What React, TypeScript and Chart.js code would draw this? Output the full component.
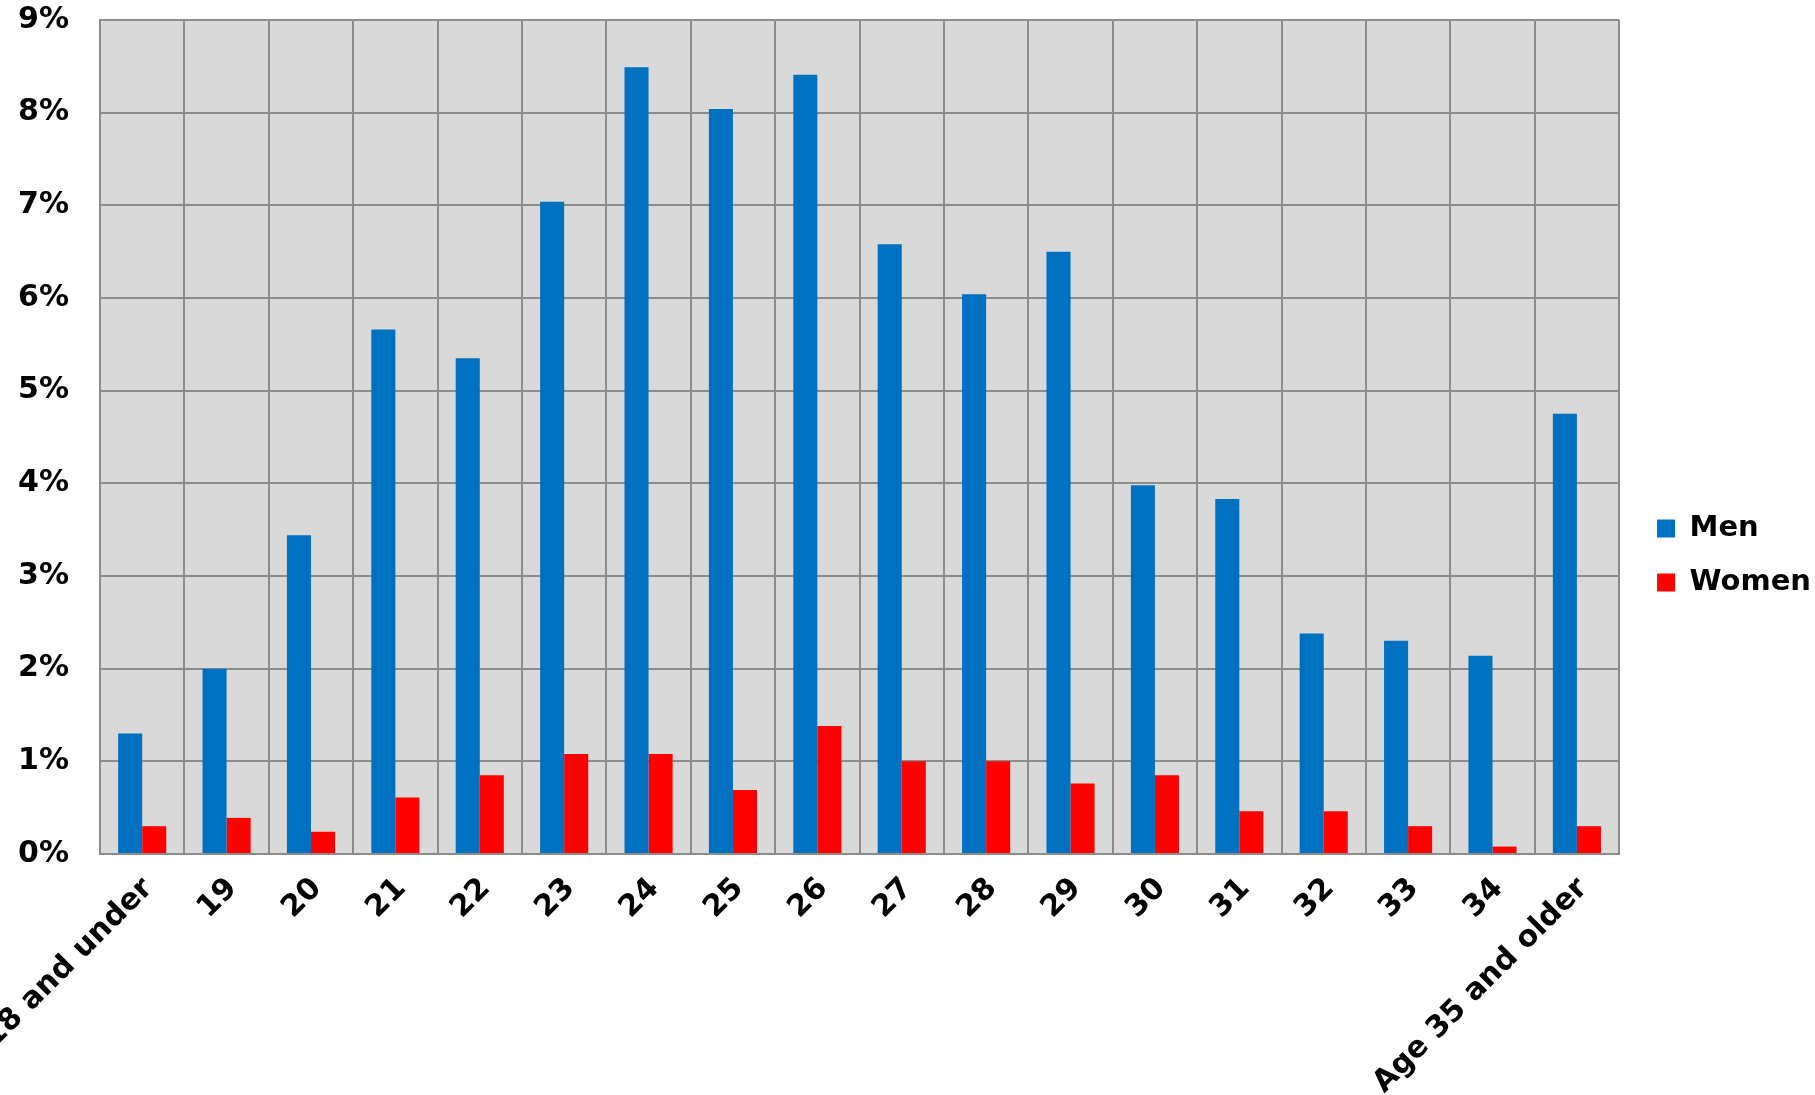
import React, { useEffect, useRef } from "react";
import { Chart, registerables } from "chart.js";

Chart.register(...registerables);

const categories = [
  "Age 18 and under", "19", "20", "21", "22", "23", "24", "25", "26",
  "27", "28", "29", "30", "31", "32", "33", "34", "Age 35 and older",
];
const menValues = [1.3, 2.0, 3.44, 5.66, 5.35, 7.04, 8.49, 8.04, 8.41, 6.58, 6.04, 6.5, 3.98, 3.83, 2.38, 2.3, 2.14, 4.75];
const womenValues = [0.3, 0.39, 0.24, 0.61, 0.85, 1.08, 1.08, 0.69, 1.38, 1.0, 1.0, 0.76, 0.85, 0.46, 0.46, 0.3, 0.08, 0.3];
const seriesNames = ["Men", "Women"];
const yMin = 0;
const yMax = 9;
const yStep = 1;

const FAMILY = "'DejaVu Sans', Verdana, sans-serif";
const FONT = { family: FAMILY, size: 29, weight: "bold" as const };
const TICK_FONT = { family: FAMILY, size: 30, weight: "bold" as const };
const GRID = "#8c8c8c";

const plotBg = {
  id: "plotBg",
  beforeDraw(chart: any) {
    const { ctx, chartArea } = chart;
    if (!chartArea) return;
    ctx.save();
    ctx.fillStyle = "#d9d9d9";
    ctx.fillRect(chartArea.left, chartArea.top, chartArea.right - chartArea.left, chartArea.bottom - chartArea.top);
    ctx.restore();
  },
};

export default function App() {
  const ref = useRef<HTMLCanvasElement | null>(null);
  useEffect(() => {
    if (!ref.current) return;
    const chart = new Chart(ref.current, {
      type: "bar",
      data: {
        labels: categories,
        datasets: [
          { label: seriesNames[0], data: menValues, backgroundColor: "#0070C0", categoryPercentage: 0.57, barPercentage: 1 },
          { label: seriesNames[1], data: womenValues, backgroundColor: "#FF0000", categoryPercentage: 0.57, barPercentage: 1 },
        ],
      },
      options: {
        responsive: false,
        animation: false,
        layout: { padding: { top: 16, right: -6, left: 0, bottom: 0 } },
        plugins: {
          tooltip: { enabled: false },
          legend: {
            position: "right",
            labels: {
              boxWidth: 18,
              boxHeight: 18,
              padding: 25,
              color: "#000",
              font: FONT,
            },
          },
        },
        scales: {
          x: {
            grid: { color: GRID, lineWidth: 2, drawTicks: false, offset: true },
            border: { color: GRID, width: 2 },
            ticks: {
              color: "#000",
              font: TICK_FONT,
              minRotation: 45,
              maxRotation: 45,
              autoSkip: false,
              padding: 17,
              labelOffset: 6,
            },
            afterFit: (scale: any) => {
              scale.paddingLeft = 0;
              scale.paddingRight = 0;
              scale.height = 241;
            },
          },
          y: {
            min: yMin,
            max: yMax,
            grid: { color: GRID, lineWidth: 2, drawTicks: false },
            border: { color: GRID, width: 2 },
            ticks: {
              stepSize: yStep,
              color: "#000",
              font: TICK_FONT,
              padding: 31,
              callback: (v: any) => `${v}%`,
            },
            afterFit: (scale: any) => {
              scale.width = 100;
              scale.paddingTop = 20;
            },
          },
          spacer: {
            type: "linear",
            position: "right",
            display: true,
            grid: { display: false, drawTicks: false },
            border: { display: false },
            ticks: { display: false },
            afterFit: (scale: any) => {
              scale.width = 13;
            },
          },
        },
      },
      plugins: [plotBg],
    });
    return () => chart.destroy();
  }, []);
  return (
    <div style={{ position: "fixed", left: 0, top: 0, width: 1815, height: 1095, background: "#fff" }}>
      <canvas ref={ref} width={1815} height={1095} style={{ width: 1815, height: 1095, display: "block" }} />
    </div>
  );
}
